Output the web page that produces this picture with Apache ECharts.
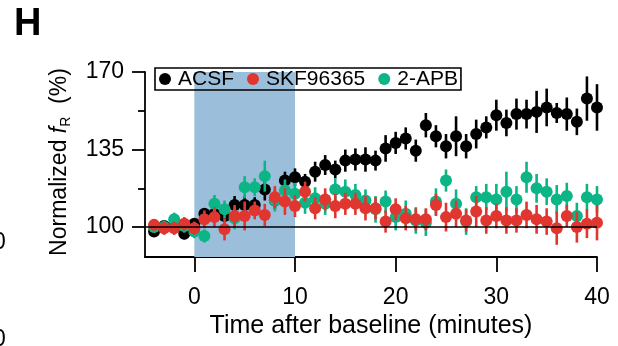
<!DOCTYPE html>
<html>
<head>
<meta charset="utf-8">
<script src="https://cdn.jsdelivr.net/npm/echarts@6/dist/echarts.min.js"></script>
<style>
html,body{margin:0;padding:0;background:#fff;}
#chart{width:618px;height:346px;}
</style>
</head>
<body>
<div id="chart"></div>
<script>
// ---- data ----
const minutes = [-4,-3,-2,-1,0,1,2,3,4,5,6,7,8,9,10,11,12,13,14,15,16,17,18,19,20,21,22,23,24,25,26,27,28,29,30,31,32,33,34,35,36,37,38,39,40];
const acsfMean = [98,100.5,100,97,101.5,106,106,105,110,110,110,117,112,121,122.5,120.5,125,128,126,130,130.5,130.5,130,135.5,138,140,134.5,146,141,136.5,141,136.5,142,145,150.5,147,151,151,152,154,151.5,151,147.5,158,154];
const acsfErr  = [2,2,2.5,2.5,2,2.5,3,3,4,4,3.5,5,4,4,4,3.5,4.5,4.5,4,5,5,5.5,4.5,6,5,5,5,5.5,5,5.5,9,5.5,6.5,5,7,6,7,6.5,9.5,8.5,4.5,7.5,6,10,10.5];
const skfMean  = [101,99.5,99.5,101.5,99.5,103.5,104.5,99,105,105,107.5,105.5,113.5,111.5,109.5,116,108.5,112.5,109.5,110.5,110.5,108.5,108.5,102.5,108,104,103.5,103.5,110,104.5,106,103,107,103,105,103,103,105.5,103.5,102.5,99.5,105,100,101.5,102];
const skfErr   = [2.5,3,3,3,3,4,4.5,5,5,6.5,4,5,5,6,5,4.5,5,5,5.5,5,5,5.5,5,5,5,5.5,5,5,5,6.5,6,5,7,6,5.5,6,5.5,6,6.5,6,7.5,5,7,6.5,8];
const apbMean  = [100,100,103.5,100.5,98,96,110.5,108,104,118,118,123,112,116.5,115,111,113,110.5,117,116,114.5,112,108,111.5,104.5,106,103,102,111.5,121,110.5,102.5,113.5,113.5,112.5,116,112.5,122.5,117.5,116,112.5,114,105,113.5,112.5];
const apbErr   = [2.5,3,3,3,3,3,4,4,5,5,4,7,5,5,5,5,5,5,5,5.5,5,5,6,5,6,6,6,6,6,5,6.5,6,5,6,7,9,6,7,6.5,6,6.5,6,6,6,6];
const seriesNames = ['ACSF','SKF96365','2-APB'];
const xTicks = [0,10,20,30,40];
const yTicks = [100,135,170];
const yMinorTicks = [117.5,152.5];
const drugWindow = [0,10];
const baseline = 100;
const xRange = [-4.9,40];
const yRange = [86.5,170];

// ---- styles ----
const FONT = '"Liberation Sans", Arial, Helvetica, sans-serif';
const colors = ['#000000','#e0362f','#0bb585'];

function errData(mean, err){
  return minutes.map((m,i)=>[m, mean[i]-err[i], mean[i]+err[i]]);
}
function ptData(mean){
  return minutes.map((m,i)=>[m, mean[i]]);
}
function errSeries(mean, err, color, z){
  return {
    type:'custom', z:z, silent:true, clip:false,
    renderItem:function(params, api){
      const p1 = api.coord([api.value(0), api.value(1)]);
      const p2 = api.coord([api.value(0), api.value(2)]);
      return {type:'line', shape:{x1:p1[0],y1:p1[1],x2:p2[0],y2:p2[1]}, style:{stroke:color, lineWidth:2.6}};
    },
    encode:{x:0,y:[1,2]},
    data: errData(mean, err)
  };
}
function dotSeries(name, mean, color, z){
  return {
    type:'scatter', name:name, z:z, silent:true,
    symbol:'circle', symbolSize:12,
    itemStyle:{color:color, opacity:1},
    data: ptData(mean)
  };
}

const chart = echarts.init(document.getElementById('chart'), null, {renderer:'canvas'});
const axisLineStyle = {color:'#000', width:1.8};
chart.setOption({
  animation:false,
  textStyle:{fontFamily:FONT},
  grid:{left:145, right:21, top:72, bottom:89, containLabel:false},
  legend:{
    data: seriesNames.map((n,i)=>({name:n, icon:'circle', itemStyle:{color:colors[i]}})),
    left:155, top:68, orient:'horizontal',
    itemWidth:12, itemHeight:12, itemGap:13,
    padding:[0,3,0,4],
    borderColor:'#000', borderWidth:1.6,
    textStyle:{fontFamily:FONT, fontSize:21, color:'#000', lineHeight:22, padding:[0,0,0,2]},
    selectedMode:false
  },
  xAxis:{
    type:'value', min:xRange[0], max:xRange[1],
    axisLine:{show:true, onZero:false, lineStyle:axisLineStyle},
    axisTick:{show:true, inside:false, length:15, customValues:xTicks, lineStyle:axisLineStyle},
    axisLabel:{show:true, customValues:xTicks, fontSize:23, color:'#000', margin:29, fontFamily:FONT},
    splitLine:{show:false},
    name:'Time after baseline (minutes)', nameLocation:'middle', nameGap:57,
    nameTextStyle:{fontSize:25, color:'#000', fontFamily:FONT}
  },
  yAxis:[{
    type:'value', min:yRange[0], max:yRange[1], position:'left',
    axisLine:{show:true, onZero:false, lineStyle:axisLineStyle},
    axisTick:{show:true, inside:false, length:13, customValues:yTicks, lineStyle:axisLineStyle},
    axisLabel:{show:true, customValues:yTicks, fontSize:23, color:'#000', margin:21, fontFamily:FONT},
    splitLine:{show:false}
  },{
    type:'value', min:yRange[0], max:yRange[1], position:'left',
    axisLine:{show:false, onZero:false},
    axisTick:{show:true, inside:false, length:7, customValues:yMinorTicks, lineStyle:axisLineStyle},
    axisLabel:{show:false},
    splitLine:{show:false}
  }],
  graphic:[
    {type:'text', left:14, top:6, style:{text:'H', font:'bold 38px ' + FONT, fill:'#000'}},
    {type:'text', x:-7, y:243, style:{text:'0', font:'23px ' + FONT, fill:'#000', verticalAlign:'middle'}},
    {type:'text', x:-7, y:340, style:{text:'0', font:'23px ' + FONT, fill:'#000', verticalAlign:'middle'}},
    {type:'text', x:60, y:162, rotation:Math.PI/2,
     style:{
       text:'Normalized {i|f}{s|R}  (%)',
       align:'center', verticalAlign:'middle',
       font:'23px ' + FONT, fill:'#000',
       rich:{
         i:{fontStyle:'italic', fontSize:23, fontFamily:FONT, fill:'#000', lineHeight:26},
         s:{fontSize:14, fontFamily:FONT, fill:'#000', verticalAlign:'bottom', lineHeight:14}
       }
     }}
  ],
  series:[
    {
      type:'line', data:[], z:0, silent:true,
      markArea:{silent:true, itemStyle:{color:'#9bbfda'}, data:[[{xAxis:drugWindow[0]},{xAxis:drugWindow[1]}]]},
      markLine:{silent:true, symbol:['none','none'], label:{show:false},
        lineStyle:{color:'#000', width:1.6, type:'solid'}, data:[{yAxis:baseline}]}
    },
    errSeries(acsfMean, acsfErr, colors[0], 2),
    dotSeries(seriesNames[0], acsfMean, colors[0], 2),
    errSeries(apbMean, apbErr, colors[2], 3),
    dotSeries(seriesNames[2], apbMean, colors[2], 3),
    errSeries(skfMean, skfErr, colors[1], 4),
    dotSeries(seriesNames[1], skfMean, colors[1], 4)
  ]
});
</script>
</body>
</html>
